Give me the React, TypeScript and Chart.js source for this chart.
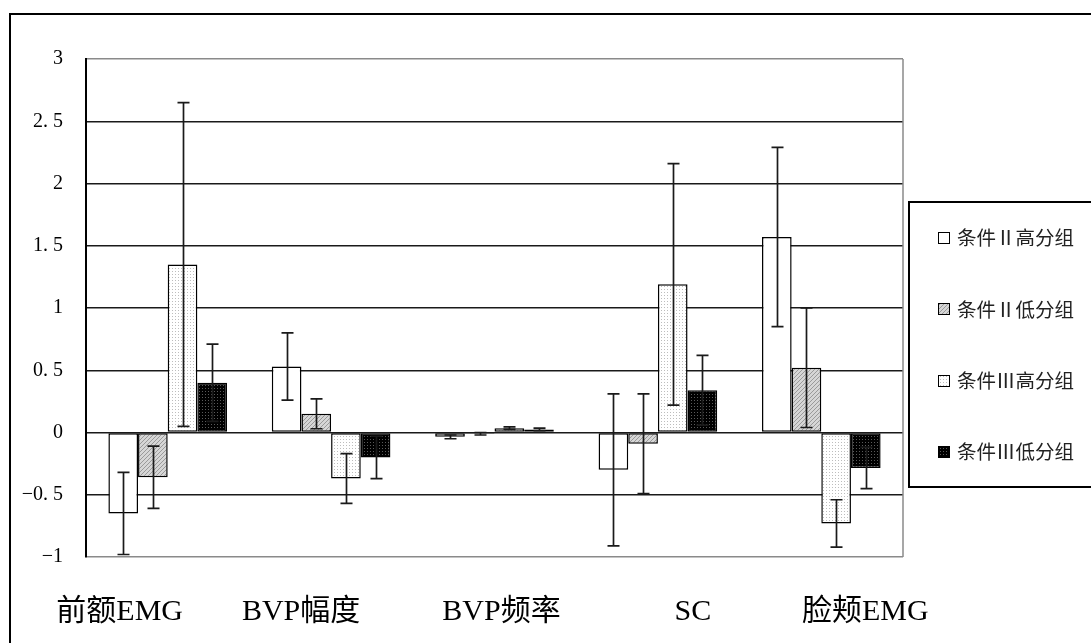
import React, { useEffect, useRef } from 'react';
import { Chart, registerables } from 'chart.js';

Chart.register(...registerables);

const categories = ['前额EMG', 'BVP幅度', 'BVP频率', 'SC', '脸颊EMG'];
const seriesNames = ['条件Ⅱ高分组', '条件Ⅱ低分组', '条件Ⅲ高分组', '条件Ⅲ低分组'];

const cond2High = [-0.65, 0.53, -0.035, -0.3, 1.57];
const cond2HighErr = [0.33, 0.27, 0.015, 0.61, 0.72];
const cond2Low = [-0.36, 0.15, -0.01, -0.09, 0.52];
const cond2LowErr = [0.25, 0.12, 0.01, 0.4, 0.48];
const cond3High = [1.35, -0.37, 0.035, 1.19, -0.73];
const cond3HighErr = [1.3, 0.2, 0.01, 0.97, 0.19];
const cond3Low = [0.4, -0.2, 0.025, 0.34, -0.285];
const cond3LowErr = [0.31, 0.17, 0.01, 0.28, 0.165];

const yMin = -1;
const yMax = 3;
const yStep = 0.5;

// horizontal shift of each category caption from its category centre (layout only)
const labelShift = [-48, -30, 7, 35, 44];

function makePattern(bg: string, fg: string, kind: 'dots' | 'hatch', size: number) {
  const c = document.createElement('canvas');
  c.width = size;
  c.height = size;
  const g = c.getContext('2d') as CanvasRenderingContext2D;
  g.fillStyle = bg;
  g.fillRect(0, 0, size, size);
  g.fillStyle = fg;
  if (kind === 'dots') {
    g.fillRect(1, 1, 1, 1);
  } else {
    for (let i = 0; i < size; i++) g.fillRect(i, size - 1 - i, 1, 1);
  }
  return g.createPattern(c, 'repeat') as CanvasPattern;
}

const errorBarsPlugin = {
  id: 'errorBars',
  afterDatasetsDraw(chart: any) {
    const ctx = chart.ctx;
    const y = chart.scales.y;
    ctx.save();
    ctx.strokeStyle = '#1a1a1a';
    ctx.lineWidth = 1.7;
    chart.data.datasets.forEach((ds: any, i: number) => {
      const meta = chart.getDatasetMeta(i);
      meta.data.forEach((bar: any, j: number) => {
        const v = ds.data[j];
        const e = ds.errors[j];
        const top = y.getPixelForValue(v + e);
        const bot = y.getPixelForValue(v - e);
        const x = Math.round(bar.x) + 0.5;
        ctx.beginPath();
        ctx.moveTo(x, top);
        ctx.lineTo(x, bot);
        ctx.moveTo(x - 6, top);
        ctx.lineTo(x + 6, top);
        ctx.moveTo(x - 6, bot);
        ctx.lineTo(x + 6, bot);
        ctx.stroke();
      });
    });
    ctx.restore();
  },
};

const framePlugin = {
  id: 'frame',
  beforeDraw(chart: any) {
    const ctx = chart.ctx;
    ctx.save();
    ctx.fillStyle = '#ffffff';
    ctx.fillRect(0, 0, chart.width, chart.height);
    ctx.restore();
  },
  afterDraw(chart: any) {
    const ctx = chart.ctx;
    const area = chart.chartArea;
    ctx.save();
    // plot area right border
    ctx.strokeStyle = '#8a8a8a';
    ctx.lineWidth = 1.5;
    ctx.beginPath();
    ctx.moveTo(area.right, area.top);
    ctx.lineTo(area.right, area.bottom);
    ctx.stroke();

    // outer frame
    ctx.strokeStyle = '#000';
    ctx.lineWidth = 2;
    ctx.strokeRect(10, 14, 1300, 900);

    // legend box
    ctx.strokeRect(909, 202, 300, 285);
    chart.data.datasets.forEach((ds: any, i: number) => {
      const cy = 238 + i * 71.3;
      ctx.fillStyle = ds.backgroundColor;
      ctx.fillRect(938, Math.round(cy) - 6, 12, 12);
      ctx.strokeStyle = '#000';
      ctx.lineWidth = 1;
      ctx.strokeRect(938.5, Math.round(cy) - 5.5, 11, 11);
      ctx.fillStyle = '#222';
      ctx.font = '19.5px "Noto Sans CJK SC"';
      ctx.textAlign = 'left';
      ctx.textBaseline = 'middle';
      ctx.fillText(ds.label, 957, cy);
    });

    // category captions
    const xs = chart.scales.x;
    ctx.fillStyle = '#000';
    ctx.font = '30px "Liberation Serif", "Noto Sans CJK SC"';
    ctx.textAlign = 'center';
    ctx.textBaseline = 'middle';
    categories.forEach((c, i) => {
      ctx.fillText(c, xs.getPixelForValue(i) + labelShift[i], 612);
    });
    ctx.restore();
  },
};

export default function App() {
  const ref = useRef<HTMLCanvasElement | null>(null);

  useEffect(() => {
    if (!ref.current) return;
    const pWhite = '#ffffff';
    const pHatch = makePattern('#d6d6d6', '#9a9a9a', 'hatch', 4);
    const pDots = makePattern('#ffffff', '#bdbdbd', 'dots', 3);
    const pBlack = makePattern('#000000', '#5a5a5a', 'dots', 3);
    const values = [cond2High, cond2Low, cond3High, cond3Low];
    const errors = [cond2HighErr, cond2LowErr, cond3HighErr, cond3LowErr];
    const fills = [pWhite, pHatch, pDots, pBlack];

    const chart = new Chart(ref.current, {
      type: 'bar',
      data: {
        labels: categories,
        datasets: seriesNames.map((name, i) => ({
          label: name,
          data: values[i],
          errors: errors[i],
          backgroundColor: fills[i],
          borderColor: '#000',
          borderWidth: 1.5,
          borderSkipped: false,
          categoryPercentage: 0.726,
          barPercentage: 1.0,
        })) as any,
      },
      options: {
        responsive: false,
        animation: false,
        layout: { padding: { left: 0, top: 59, right: 188, bottom: 86 } },
        plugins: {
          legend: { display: false },
          tooltip: { enabled: false },
        },
        scales: {
          x: {
            display: false,
            grid: { display: false },
          },
          y: {
            min: yMin,
            max: yMax,
            afterFit(scale: any) {
              scale.width = 86;
            },
            border: { display: true, color: '#000', width: 2 },
            grid: {
              drawTicks: false,
              lineWidth: 1.5,
              color: (c: any) =>
                c.tick && (c.tick.value === yMax || c.tick.value === yMin) ? '#8a8a8a' : '#1a1a1a',
            },
            ticks: {
              stepSize: yStep,
              padding: 23,
              color: '#000',
              font: { family: '"Liberation Serif"', size: 20 },
              callback: (v: any) => String(v).replace('.', '. ').replace('-', '−'),
            },
          },
        },
      },
      plugins: [errorBarsPlugin, framePlugin],
    });
    return () => chart.destroy();
  }, []);

  return (
    <div style={{ position: 'fixed', left: 0, top: 0, width: 1091, height: 643, background: '#fff' }}>
      <canvas ref={ref} width={1091} height={643} style={{ width: 1091, height: 643 }} />
    </div>
  );
}
